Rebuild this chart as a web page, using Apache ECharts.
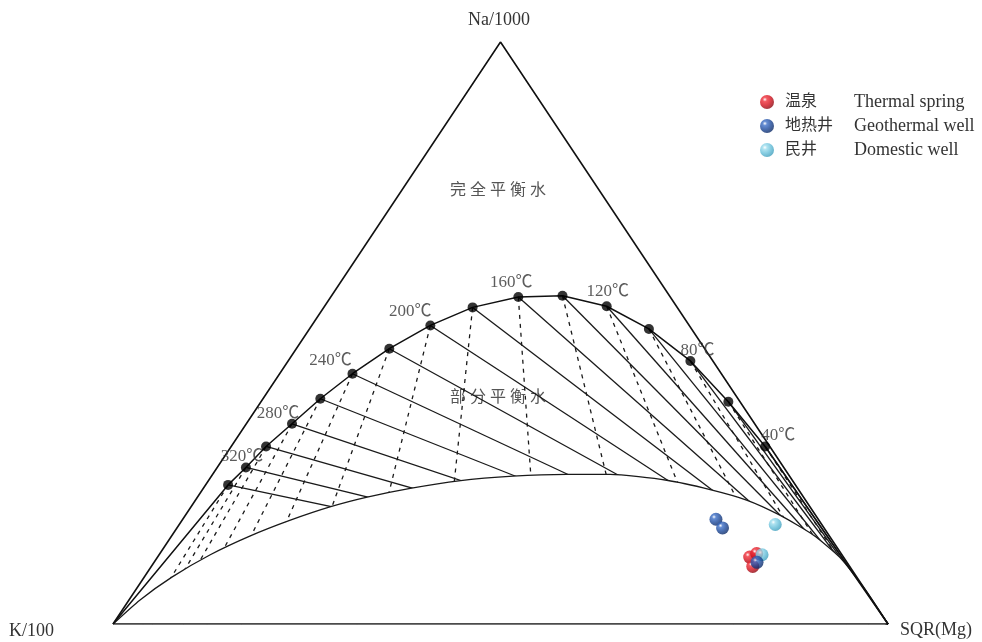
<!DOCTYPE html>
<html>
<head>
<meta charset="utf-8">
<script src="https://cdn.jsdelivr.net/npm/echarts@6/dist/echarts.min.js"></script>
<style>
  html, body { margin: 0; padding: 0; background: #fff; }
  #chart { width: 982px; height: 642px; }
</style>
</head>
<body>
<div id="chart"></div>
<script>
// ternary values in percent: Na/1000 (top), K/100 (left), SQR(Mg) = 100 - Na - K
const eqTemps = [340, 320, 300, 280, 260, 240, 220, 200, 180, 160, 140, 120, 100, 80, 60, 40];
const eqNa = [23.9, 26.9, 30.5, 34.4, 38.7, 43.0, 47.3, 51.3, 54.4, 56.2, 56.4, 54.6, 50.7, 45.2, 38.2, 30.5];
const eqK = [73.2, 69.4, 65.0, 59.7, 53.9, 47.6, 40.7, 33.4, 26.4, 19.6, 13.8, 9.0, 5.5, 2.9, 1.5, 0.6];
const labeledTemps = [320, 280, 240, 200, 160, 120, 80, 40];

// immature water boundary, from the K corner to the Mg corner
const immNa = [0, 4.1, 8.1, 11.9, 15.1, 17.8, 20.2, 21.8, 23.3, 24.6, 25.4, 25.7, 25.7, 24.7, 23.1, 21.3, 18.7, 15.3, 11.5, 5.8, 0];
const immK = [100, 94.5, 88.3, 81.5, 74.8, 68.3, 61.7, 56.3, 50.0, 43.1, 35.7, 28.6, 23.0, 16.2, 11.4, 7.6, 4.6, 2.0, 0.5, 0, 0];

// samples
const springNa = [11.5, 12.1, 9.9];
const springK = [12.1, 10.9, 12.5];
const wellNa = [18.0, 16.5, 10.6];
const wellK = [13.2, 13.1, 11.6];
const domesticNa = [17.1, 11.9];
const domesticK = [6.0, 10.3];

const namesCn = ['温泉', '地热井', '民井'];
const namesEn = ['Thermal spring', 'Geothermal well', 'Domestic well'];

const FONT = '"Liberation Serif", "Noto Sans CJK SC", serif';

// label offsets next to the temperature dots
const labelOffset = {
  320: [-4, -11], 280: [-14, -10], 240: [-22, -13], 200: [-20, -14],
  160: [-7, -14], 120: [1, -15], 80: [7, -10], 40: [13, -11]
};

function toXY(na, k) {
  const mg = 100 - na - k;
  return [mg + na / 2, na];
}

const kCorner = [0, 0];
const mgCorner = [100, 0];
const naCorner = [50, 100];

const dots = eqTemps.map((t, i) => toXY(eqNa[i], eqK[i]));

// lines of constant Na/K run to the Mg corner, lines of constant K/Mg run away from the Na corner
const solidTies = dots.map((p) => ({ coords: [p, mgCorner] }));
const dashedTies = eqTemps.map((t, i) => {
  const mg = 100 - eqNa[i] - eqK[i];
  return { coords: [dots[i], [mg / (mg + eqK[i]) * 100, 0]] };
});

function sphere(light, base, dark) {
  return new echarts.graphic.RadialGradient(0.35, 0.32, 0.7, [
    { offset: 0, color: '#ffffff' },
    { offset: 0.22, color: light },
    { offset: 0.6, color: base },
    { offset: 1, color: dark }
  ]);
}

const chart = echarts.init(document.getElementById('chart'));

const option = {
  animation: false,
  grid: { left: 113, right: 94, top: 42, bottom: 18 },
  xAxis: { type: 'value', min: 0, max: 100, show: false },
  yAxis: { type: 'value', min: 0, max: 100, show: false },
  legend: {
    orient: 'vertical',
    left: 755,
    top: 88,
    itemWidth: 14,
    itemHeight: 14,
    itemGap: 6,
    icon: 'circle',
    data: namesCn,
    formatter: (name) => `{cn|${name}}{en|${namesEn[namesCn.indexOf(name)]}}`,
    textStyle: {
      rich: {
        cn: { fontSize: 16, fontFamily: FONT, color: '#333', width: 69, padding: [0, 0, 0, 6], lineHeight: 20 },
        en: { fontSize: 18, fontFamily: FONT, color: '#333', lineHeight: 20 }
      }
    }
  },
  graphic: [
    { type: 'text', x: 499, y: 20, style: { text: 'Na/1000', fontSize: 18, fontFamily: FONT, fill: '#333', align: 'center', verticalAlign: 'middle' } },
    { type: 'text', x: 9, y: 631, style: { text: 'K/100', fontSize: 18, fontFamily: FONT, fill: '#333', align: 'left', verticalAlign: 'middle' } },
    { type: 'text', x: 900, y: 630, style: { text: 'SQR(Mg)', fontSize: 18, fontFamily: FONT, fill: '#333', align: 'left', verticalAlign: 'middle' } },
    { type: 'text', x: 498, y: 191, style: { text: '完 全 平 衡 水', fontSize: 16, fontFamily: FONT, fill: '#555', align: 'center', verticalAlign: 'middle' } },
    { type: 'text', x: 498, y: 398, style: { text: '部 分 平 衡 水', fontSize: 16, fontFamily: FONT, fill: '#555', align: 'center', verticalAlign: 'middle' } },
    { type: 'text', x: 487, y: 553, style: { text: '未 成 熟 水', fontSize: 16, fontFamily: FONT, fill: '#555', align: 'center', verticalAlign: 'middle' } }
  ],
  series: [
    {
      type: 'lines',
      coordinateSystem: 'cartesian2d',
      z: 1,
      silent: true,
      data: solidTies,
      lineStyle: { color: '#1a1a1a', width: 1.3, opacity: 1 }
    },
    {
      type: 'lines',
      coordinateSystem: 'cartesian2d',
      z: 1,
      silent: true,
      data: dashedTies,
      lineStyle: { color: '#1a1a1a', width: 1.3, opacity: 1, type: [4, 5] }
    },
    {
      // immature water curve, the white fill hides the tie lines below it
      type: 'line',
      z: 2,
      silent: true,
      showSymbol: false,
      smooth: 0.2,
      data: immNa.map((na, i) => toXY(na, immK[i])),
      lineStyle: { color: '#1a1a1a', width: 1.3 },
      areaStyle: { color: '#fff', opacity: 1 }
    },
    {
      // full equilibrium curve
      type: 'line',
      z: 3,
      silent: true,
      showSymbol: false,
      data: [kCorner].concat(dots, [mgCorner]),
      lineStyle: { color: '#111', width: 1.5 }
    },
    {
      type: 'line',
      z: 4,
      silent: true,
      showSymbol: false,
      data: [kCorner, mgCorner, naCorner, kCorner],
      lineStyle: { color: '#111', width: 1.6 }
    },
    {
      type: 'scatter',
      z: 5,
      symbolSize: 10,
      itemStyle: { color: '#000' },
      data: dots.map((p, i) => {
        const t = eqTemps[i];
        if (labeledTemps.indexOf(t) < 0) return p;
        return {
          value: p,
          label: {
            show: true,
            position: 'inside',
            offset: labelOffset[t],
            formatter: t + '℃',
            fontSize: 17,
            fontFamily: FONT,
            color: '#333'
          }
        };
      })
    },
    {
      name: namesCn[0],
      type: 'scatter',
      z: 6,
      symbolSize: 13,
      itemStyle: { color: sphere('#f0303a', '#d4121e', '#8e0710') },
      data: springNa.map((na, i) => toXY(na, springK[i]))
    },
    {
      name: namesCn[2],
      type: 'scatter',
      z: 6,
      symbolSize: 13,
      itemStyle: { color: sphere('#9cdcec', '#68c0da', '#3f9fbd') },
      data: domesticNa.map((na, i) => toXY(na, domesticK[i]))
    },
    {
      name: namesCn[1],
      type: 'scatter',
      z: 6,
      symbolSize: 13,
      itemStyle: { color: sphere('#3e70c8', '#1d4a9c', '#0c2a66') },
      data: wellNa.map((na, i) => toXY(na, wellK[i]))
    }
  ]
};

chart.setOption(option);
</script>
</body>
</html>
